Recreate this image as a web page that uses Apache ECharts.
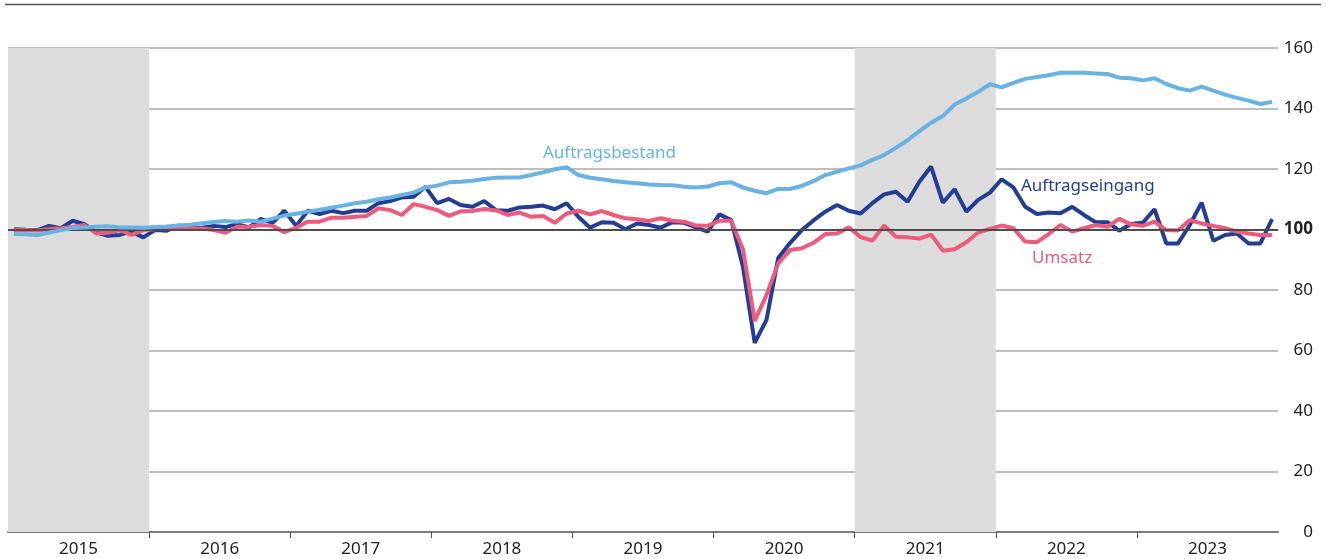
<!DOCTYPE html>
<html>
<head>
<meta charset="utf-8">
<script src="https://cdn.jsdelivr.net/npm/echarts@6/dist/echarts.min.js"></script>
<style>
  html, body { margin: 0; padding: 0; background: #fff; }
  #chart { width: 1326px; height: 559px; }
</style>
</head>
<body>
<div id="chart"></div>
<script>
// Jahre und Monate (Jan 2015 bis Dez 2023)
const years = ["2015", "2016", "2017", "2018", "2019", "2020", "2021", "2022", "2023"];
const shadedYears = ["2015", "2021"];

const auftragsbestand = [
  98.5, 98.4, 98.2, 99.0, 99.8, 100.5, 100.7, 100.9, 101.1, 100.7, 100.7, 100.6,
  100.8, 101.0, 101.3, 101.6, 102.1, 102.5, 102.8, 102.6, 103.0, 102.6, 103.6, 104.6,
  105.2, 105.9, 106.5, 107.2, 107.9, 108.7, 109.2, 110.0, 110.6, 111.4, 112.2, 113.9,
  114.5, 115.6, 115.8, 116.1, 116.7, 117.1, 117.2, 117.2, 118.0, 118.9, 119.9, 120.6,
  118.0, 117.1, 116.6, 116.0, 115.6, 115.3, 114.9, 114.7, 114.6, 114.1, 113.9, 114.2,
  115.3, 115.6, 113.9, 112.8, 112.0, 113.4, 113.4, 114.4, 116.0, 118.0, 119.1, 120.2,
  121.2, 123.0, 124.6, 127.0, 129.5, 132.5, 135.3, 137.5, 141.3, 143.3, 145.5, 148.0,
  147.0, 148.5, 149.8, 150.4, 151.0, 151.8, 151.8, 151.8, 151.6, 151.4, 150.2, 150.0,
  149.3, 150.0, 148.1, 146.7, 145.9, 147.2, 145.9, 144.6, 143.5, 142.6, 141.5, 142.2
];

const auftragseingang = [
  100.1, 99.9, 99.8, 101.2, 100.4, 102.9, 101.8, 99.1, 97.9, 98.2, 99.3, 97.4,
  99.8, 99.6, 101.3, 100.6, 100.6, 101.2, 100.8, 101.8, 100.7, 103.5, 102.2, 106.2,
  101.2, 106.2, 105.1, 106.2, 105.4, 106.2, 106.2, 108.7, 109.4, 110.6, 110.8, 114.1,
  108.7, 110.1, 108.1, 107.5, 109.4, 106.4, 106.2, 107.3, 107.5, 107.9, 106.7, 108.7,
  104.2, 100.6, 102.4, 102.2, 100.1, 102.0, 101.5, 100.6, 102.4, 102.2, 100.7, 99.3,
  105.0, 103.1, 87.7, 62.5, 70.1, 90.6, 95.5, 99.8, 103.0, 105.9, 108.1, 106.2,
  105.3, 108.7, 111.6, 112.5, 109.2, 115.8, 120.8, 108.9, 113.3, 105.9, 109.8, 112.2,
  116.6, 113.9, 107.5, 105.1, 105.6, 105.4, 107.5, 104.8, 102.4, 102.4, 99.6, 101.8,
  102.2, 106.7, 95.4, 95.4, 101.5, 108.9, 96.3, 98.2, 98.7, 95.4, 95.4, 103.4
];

const umsatz = [
  99.8, 99.8, 99.7, 100.2, 100.4, 100.8, 101.5, 98.7, 98.9, 99.8, 98.2, 99.8,
  100.1, 100.6, 100.5, 100.4, 100.3, 99.8, 98.9, 100.9, 100.9, 101.5, 101.2, 99.1,
  100.6, 102.6, 102.6, 103.9, 103.9, 104.2, 104.5, 107.0, 106.4, 104.8, 108.4, 107.5,
  106.4, 104.5, 106.0, 106.1, 106.8, 106.3, 104.8, 105.6, 104.2, 104.5, 102.2, 105.3,
  106.2, 105.0, 106.1, 104.8, 103.7, 103.4, 102.8, 103.7, 102.9, 102.6, 101.3, 101.2,
  102.9, 102.9, 93.5, 69.8, 78.3, 88.8, 93.2, 93.8, 95.6, 98.5, 98.7, 100.7,
  97.5, 96.3, 101.3, 97.6, 97.4, 97.0, 98.3, 93.0, 93.5, 95.8, 99.0, 100.2,
  101.3, 100.4, 96.0, 95.8, 98.5, 101.5, 99.3, 100.4, 101.5, 100.9, 103.5, 101.7,
  101.2, 102.6, 99.8, 99.7, 103.1, 102.0, 101.2, 100.4, 99.3, 98.7, 98.2, 98.2
];

const months = [];
years.forEach(function (y) {
  for (let m = 1; m <= 12; m++) months.push(y + "-" + (m < 10 ? "0" + m : m));
});
// Jahresgrenzen (in Monaten) für die Striche unter der Achse
const yearBreaks = [];
for (let i = 1; i < years.length; i++) yearBreaks.push(i * 12);

const FONT = "Noto Sans";
const myChart = echarts.init(document.getElementById("chart"));

const option = {
  backgroundColor: "#fff",
  animation: false,
  grid: { left: 8, right: 48, top: 48, bottom: 27 },
  xAxis: [
    {
      type: "category",
      data: months,
      boundaryGap: true,
      show: false
    },
    {
      type: "category",
      data: years,
      boundaryGap: true,
      position: "bottom",
      axisLine: { show: true, lineStyle: { color: "#7a7a7a", width: 2 } },
      axisTick: { show: false },
      axisLabel: { color: "#222", fontSize: 17, fontFamily: FONT, margin: 9 },
      splitLine: { show: false }
    },
    {
      type: "value",
      min: 0,
      max: months.length,
      position: "bottom",
      axisLine: { show: false },
      axisLabel: { show: false },
      splitLine: { show: false },
      axisTick: {
        show: true,
        length: 6,
        customValues: yearBreaks,
        lineStyle: { color: "#555", width: 1 }
      }
    }
  ],
  yAxis: {
    type: "value",
    position: "right",
    min: 0,
    max: 160,
    interval: 20,
    axisLine: { show: false },
    axisTick: { show: false },
    axisLabel: {
      color: "#222",
      fontSize: 17,
      fontFamily: FONT,
      align: "right",
      margin: 35,
      formatter: function (v) { return v === 100 ? "{b|100}" : String(v); },
      rich: { b: { fontWeight: "bold", fontSize: 17, fontFamily: FONT, color: "#222" } }
    },
    splitLine: { lineStyle: { color: "#a8a8a8", width: 1.5 } }
  },
  series: [
    {
      name: "Schattierung",
      type: "bar",
      xAxisIndex: 1,
      data: years.map(function (y) { return shadedYears.indexOf(y) >= 0 ? 160 : null; }),
      barWidth: "100%",
      itemStyle: { color: "#dcdcdc" },
      silent: true,
      z: 0
    },
    {
      name: "Auftragseingang",
      type: "line",
      data: auftragseingang,
      symbol: "none",
      lineStyle: { color: "#243d94", width: 4 },
      markLine: {
        silent: true,
        symbol: "none",
        label: { show: false },
        lineStyle: { color: "#4d4d4d", width: 2, type: "solid" },
        data: [{ yAxis: 100 }]
      },
      z: 3
    },
    {
      name: "Umsatz",
      type: "line",
      data: umsatz,
      symbol: "none",
      lineStyle: { color: "#ee5a7b", width: 4 },
      z: 4
    },
    {
      name: "Auftragsbestand",
      type: "line",
      data: auftragsbestand,
      symbol: "none",
      lineStyle: { color: "#68b3e4", width: 4 },
      z: 5
    }
  ],
  graphic: [
    {
      type: "line",
      shape: { x1: 5, y1: 4.5, x2: 1321, y2: 4.5 },
      style: { stroke: "#555", lineWidth: 1.5 }
    },
    {
      type: "text",
      left: 543, top: 145,
      style: { text: "Auftragsbestand", fill: "#68b3e4", font: "17px 'Noto Sans'" }
    },
    {
      type: "text",
      left: 1021, top: 178,
      style: { text: "Auftragseingang", fill: "#243d94", font: "17px 'Noto Sans'" }
    },
    {
      type: "text",
      left: 1032, top: 250,
      style: { text: "Umsatz", fill: "#ee5a7b", font: "17px 'Noto Sans'" }
    }
  ]
};

myChart.setOption(option);
</script>
</body>
</html>
